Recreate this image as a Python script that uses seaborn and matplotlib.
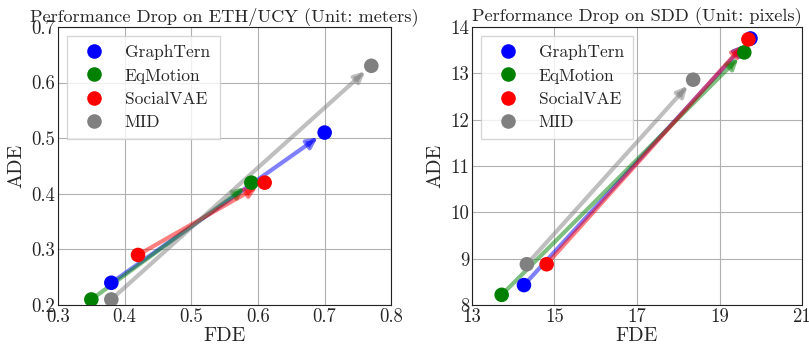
import matplotlib
matplotlib.use("Agg")
import matplotlib.pyplot as plt
import seaborn as sns
import pandas as pd

methods = ["GraphTern", "EqMotion", "SocialVAE", "MID"]
colors = ["blue", "green", "red", "gray"]

eth_fde_start = [0.38, 0.35, 0.42, 0.38]
eth_ade_start = [0.24, 0.21, 0.29, 0.21]
eth_fde_end = [0.70, 0.59, 0.61, 0.77]
eth_ade_end = [0.51, 0.42, 0.42, 0.63]

sdd_fde_start = [14.26, 13.72, 14.81, 14.33]
sdd_ade_start = [8.43, 8.22, 8.88, 8.88]
sdd_fde_end = [19.75, 19.60, 19.70, 18.36]
sdd_ade_end = [13.75, 13.45, 13.73, 12.86]

eth_xticks = [0.3, 0.4, 0.5, 0.6, 0.7, 0.8]
eth_yticks = [0.2, 0.3, 0.4, 0.5, 0.6, 0.7]
sdd_xticks = [13, 15, 17, 19, 21]
sdd_yticks = [8, 9, 10, 11, 12, 13, 14]

sns.set_style("white")
plt.rcParams["font.family"] = ["cmr10", "DejaVu Serif"]
plt.rcParams["mathtext.fontset"] = "cm"
plt.rcParams["axes.formatter.use_mathtext"] = True
plt.rcParams["axes.unicode_minus"] = False

fig = plt.figure(figsize=(8.09, 3.49), dpi=100)
ax1 = fig.add_axes([0.0717, 0.126, 0.412, 0.797])
ax2 = fig.add_axes([0.5834, 0.126, 0.408, 0.797])


def panel(ax, xs, ys, xe, ye, xticks, yticks, title, fmt):
    for i in range(len(methods)):
        ax.annotate("", xy=(xe[i], ye[i]), xytext=(xs[i], ys[i]),
                    arrowprops=dict(arrowstyle="-|>,head_length=0.6,head_width=0.3",
                                    color=colors[i], alpha=0.5, lw=3,
                                    shrinkA=0, shrinkB=6), zorder=2)
    df = pd.DataFrame({
        "FDE": list(xs) + list(xe),
        "ADE": list(ys) + list(ye),
        "Method": methods + methods,
    })
    sns.scatterplot(data=df, x="FDE", y="ADE", hue="Method", hue_order=methods,
                    palette=colors, s=110, edgecolor="none", ax=ax, zorder=3,
                    legend=True)
    ax.set_xlim(xticks[0], xticks[-1])
    ax.set_ylim(yticks[0], yticks[-1])
    ax.set_xticks(xticks)
    ax.set_yticks(yticks)
    ax.set_xticklabels([fmt(t) for t in xticks], fontsize=13.5)
    ax.set_yticklabels([fmt(t) for t in yticks], fontsize=13.5)
    ax.grid(True, color="#b0b0b0", lw=0.8)
    ax.set_axisbelow(True)
    ax.set_xlabel("FDE", fontsize=14.5, labelpad=1)
    ax.set_ylabel("ADE", fontsize=14.5)
    ax.set_title(title, fontsize=13.2, pad=4)
    for s in ax.spines.values():
        s.set_color("#222222")
        s.set_linewidth(0.8)
    ax.tick_params(axis="both", length=0, pad=2)
    leg = ax.legend(loc="upper left", fontsize=12.5, markerscale=1.0,
                    handletextpad=0.8, borderpad=0.55, labelspacing=0.45,
                    frameon=True, fancybox=False)
    leg.get_frame().set_edgecolor("#cccccc")


panel(ax1, eth_fde_start, eth_ade_start, eth_fde_end, eth_ade_end,
      eth_xticks, eth_yticks, "Performance Drop on ETH/UCY (Unit: meters)",
      lambda t: f"{t:.1f}")
panel(ax2, sdd_fde_start, sdd_ade_start, sdd_fde_end, sdd_ade_end,
      sdd_xticks, sdd_yticks, "Performance Drop on SDD (Unit: pixels)",
      lambda t: f"{t:d}")

fig.savefig("out.png", dpi=100)
